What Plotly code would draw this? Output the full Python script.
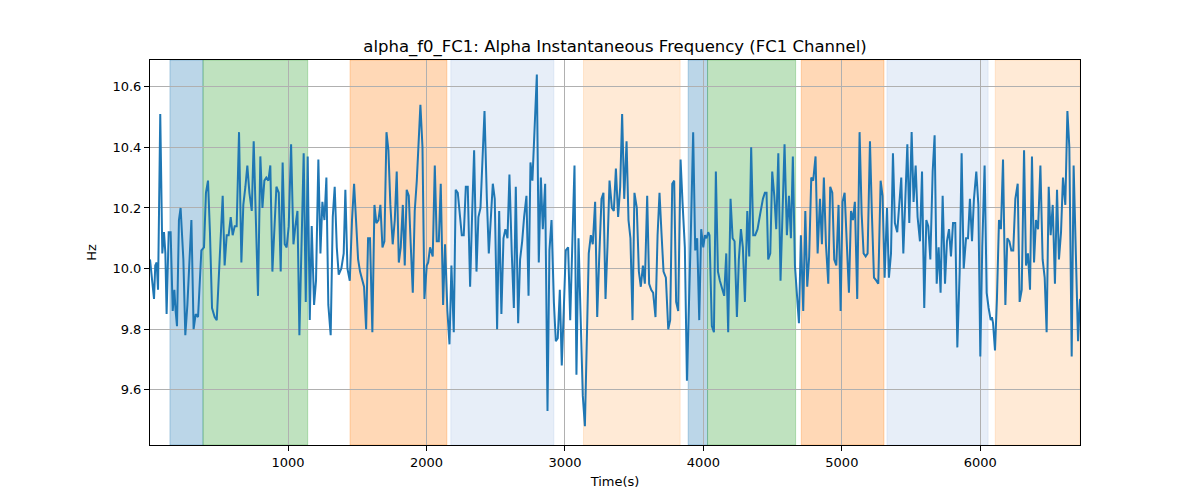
import plotly.graph_objects as go

time_s = [3, 22, 32, 41, 51, 61, 77, 92, 104, 114, 123, 138, 152, 167, 179, 188, 198, 212, 224, 244,
          258, 273, 302, 318, 333, 350, 374, 393, 407, 422, 436, 451, 470, 485, 499, 518, 528, 542, 557, 571,
          586, 600, 615, 629, 646, 663,
          677, 692, 706, 721, 738, 752, 769, 783, 800, 815, 829, 843, 858, 872, 887, 901, 916, 933, 947, 961,
          976, 990, 1005, 1022, 1039, 1053, 1068, 1082, 1099, 1113, 1128, 1142, 1157, 1171, 1188, 1202, 1219,
          1234, 1248, 1263, 1277, 1291, 1308, 1323, 1337,
          1352, 1366, 1385, 1402, 1414, 1429, 1446, 1462, 1477, 1491, 1506, 1520, 1535, 1549, 1564, 1578, 1592,
          1609, 1624, 1638, 1653, 1667, 1682, 1696, 1711, 1725, 1739, 1756, 1771, 1785, 1800, 1814, 1829, 1843,
          1857, 1872, 1886, 1901, 1915, 1930, 1956, 1971, 1985, 2002,
          2012, 2026, 2045, 2060, 2074, 2089, 2103, 2120, 2134, 2151, 2166, 2180, 2197, 2211, 2226, 2240, 2255,
          2269, 2284, 2298, 2315, 2329, 2344, 2361, 2375, 2390, 2404, 2419, 2436, 2450, 2464, 2479, 2493, 2510,
          2525, 2541, 2556, 2570, 2585, 2599, 2616, 2631, 2645, 2662,
          2676, 2691, 2705, 2722, 2737, 2751, 2765, 2780, 2797, 2811, 2826, 2840, 2857, 2874, 2888, 2903, 2920,
          2934, 2948, 2963, 2977, 2992, 3006, 3023, 3038, 3052, 3069, 3083, 3098, 3112, 3129, 3144, 3158, 3172,
          3187, 3201, 3218, 3233, 3247, 3264, 3278, 3293, 3307, 3322,
          3339, 3353, 3368, 3384, 3399, 3413, 3428, 3445, 3459, 3473, 3488, 3502, 3519, 3534, 3548, 3563, 3577,
          3594, 3608, 3623, 3637, 3654, 3669, 3683, 3697, 3712, 3729, 3746, 3760, 3775, 3789, 3803, 3818, 3835,
          3849, 3866, 3881, 3895, 3909, 3926, 3941, 3955, 3970, 3984, 3999,
          4011, 4023, 4035, 4044, 4061, 4076, 4090, 4105, 4119, 4136, 4150, 4165, 4179, 4196, 4211, 4225, 4242,
          4256, 4271, 4285, 4300, 4317, 4331, 4345, 4360, 4374, 4391, 4410, 4430, 4444, 4456, 4468, 4483, 4497,
          4512, 4526, 4541, 4557, 4572, 4586, 4603, 4618, 4632,
          4646, 4661, 4675, 4690, 4704, 4721, 4736, 4750, 4764, 4779, 4793, 4810, 4825, 4842, 4856, 4870, 4885,
          4902, 4916, 4931, 4945, 4960, 4976, 4991, 5005, 5020, 5037, 5051, 5066, 5080, 5094, 5111, 5128, 5143,
          5157, 5172, 5186, 5203, 5217, 5232, 5249, 5263, 5280, 5294, 5309, 5326,
          5340, 5355, 5369, 5383, 5400, 5415, 5429, 5444, 5458, 5473, 5487, 5504, 5518, 5533, 5547, 5564, 5579,
          5595, 5610, 5624, 5639, 5656, 5670, 5685, 5699, 5713, 5728, 5745, 5759, 5774, 5788, 5803, 5819, 5834,
          5851, 5865, 5880, 5897, 5911, 5925, 5940, 5954, 5971, 5986,
          6000, 6014, 6031, 6046, 6060, 6075, 6084, 6092, 6106, 6120, 6135, 6149, 6164, 6181, 6195, 6210, 6224,
          6238, 6253, 6270, 6284, 6299, 6316, 6330, 6344, 6359, 6373, 6388, 6402, 6417, 6434, 6450, 6465, 6479,
          6494, 6508, 6523, 6539, 6554, 6568, 6583, 6597, 6614, 6629, 6643, 6660, 6674, 6691, 6706, 6720]

freq_hz = [10.03, 9.94, 9.90, 10.01, 10.02, 9.93, 10.51, 10.05, 10.12, 10.05, 9.85, 10.12, 10.12, 9.86, 9.93, 9.86, 9.81, 10.16, 10.20, 10.03,
           9.78, 9.88, 10.16, 9.80, 9.85, 9.84, 10.06, 10.07, 10.25, 10.29, 10.12, 9.87, 9.84, 9.83, 9.97, 10.11, 10.24, 10.01, 10.11, 10.11,
           10.17, 10.11, 10.14, 10.14, 10.45, 10.02,
           10.21, 10.27, 10.34, 10.25, 10.19, 10.42, 10.12, 9.91, 10.37, 10.20, 10.29, 10.30, 10.29, 10.34, 9.99, 10.11, 10.27, 10.25, 9.99, 10.35,
           10.08, 10.07, 10.14, 10.41, 10.08, 10.14, 10.19, 9.78, 10.14, 10.38, 9.89, 10.37, 9.83, 10.14, 9.88, 9.96, 10.36,
           10.05, 10.22, 10.16, 10.30, 9.88, 9.78, 10.17, 10.27,
           10.07, 9.98, 10.00, 10.05, 10.26, 10.00, 9.96, 10.16, 10.28, 10.16, 10.03, 9.99, 9.96, 9.94, 9.80, 10.10, 10.10,
           9.79, 10.21, 10.15, 10.16, 10.21, 10.07, 10.09, 10.45, 10.39, 10.21, 10.08, 10.16, 10.32, 10.02, 10.07, 10.21, 10.01,
           10.26, 10.24, 10.08, 9.92, 10.19, 10.29, 10.54, 10.40, 9.90, 10.01,
           10.02, 10.07, 10.04, 10.34, 10.09, 10.09, 10.28, 9.88, 10.08, 9.86, 9.75, 10.01, 9.79, 10.26, 10.25, 10.17, 10.11,
           10.11, 10.27, 10.27, 9.94, 10.17, 10.39, 9.99, 10.17, 10.20, 10.36, 10.52, 10.23, 10.05, 10.16, 10.28, 10.23, 9.80,
           10.19, 9.85, 10.10, 10.13, 10.10, 10.31, 10.05, 9.87, 10.27, 9.82,
           10.03, 10.09, 10.17, 10.24, 9.91, 10.35, 10.29, 10.47, 10.64, 10.02, 10.30, 10.13, 10.28, 9.53, 10.06, 10.16, 9.89,
           9.76, 9.77, 9.93, 9.68, 9.87, 10.06, 10.07, 9.83, 10.06, 10.34, 9.65, 10.10, 9.86, 9.58, 9.48, 9.78, 10.05,
           10.11, 10.08, 10.22, 9.84, 10.03, 10.23, 10.25, 9.90, 10.07, 10.29,
           10.20, 10.19, 10.33, 10.17, 10.27, 10.51, 10.23, 10.42, 10.16, 10.10, 9.83, 10.25, 10.20, 9.99, 9.94, 10.01, 9.95,
           10.24, 9.95, 9.93, 9.92, 9.84, 10.11, 10.25, 10.12, 9.99, 9.97, 9.80, 9.83, 10.28, 10.29, 9.89, 9.86, 10.36,
           10.22, 10.07, 9.63, 9.85, 10.11, 10.45, 10.06, 10.10, 9.83, 10.13, 10.07,
           10.11, 10.10, 10.12, 10.11, 9.81, 9.79, 10.32, 9.99, 9.96, 9.93, 9.91, 10.05, 9.79, 10.23, 10.10, 10.09, 9.84,
           10.03, 10.13, 10.07, 9.89, 10.19, 10.04, 10.40, 10.11, 10.11, 10.13, 10.18, 10.23, 10.25, 10.25, 10.03, 10.05, 10.32,
           10.24, 10.13, 10.38, 9.96, 10.17, 10.41, 10.11, 10.24, 10.10,
           10.37, 10.01, 9.92, 9.82, 10.11, 9.86, 10.19, 9.94, 10.04, 10.30, 10.29, 10.37, 10.05, 10.23, 10.08, 10.30, 10.08,
           9.95, 10.27, 10.25, 10.03, 10.01, 10.21, 9.86, 10.22, 10.25, 10.07, 9.92, 10.19, 10.16, 10.22, 9.90, 10.45, 10.18,
           10.05, 10.04, 10.05, 10.42, 10.18, 9.97, 9.96, 9.95, 10.29, 10.24, 9.97, 10.20,
           9.97, 10.05, 10.38, 10.15, 10.12, 10.22, 10.30, 10.05, 10.22, 10.41, 10.15, 10.45, 10.22, 10.34, 10.17, 10.09, 10.32,
           9.87, 10.16, 10.14, 10.03, 10.32, 10.44, 9.95, 10.07, 9.92, 10.24, 9.95, 10.09, 10.13, 10.04, 10.15, 10.15, 9.74,
           9.99, 10.38, 10.00, 10.10, 10.10, 10.23, 10.09, 10.23, 10.32, 10.21,
           9.71, 10.07, 10.34, 9.92, 9.87, 9.83, 9.84, 9.82, 9.73, 9.90, 10.16, 10.13, 10.36, 9.88, 10.10, 10.09, 10.06,
           10.06, 10.23, 10.28, 9.89, 9.93, 10.39, 10.01, 10.05, 9.93, 10.37, 10.02, 10.16, 10.13, 10.34, 10.03, 9.97, 9.79,
           10.27, 10.11, 10.21, 9.95, 10.26, 10.03, 10.12, 10.30, 10.21, 10.52, 10.40, 9.71, 10.34, 10.07, 9.76, 9.90]

# shaded segments: start, end, colour
seg_start = [147, 386, 1448, 2176, 3134, 3890, 4030, 4707, 5326, 6108]
seg_end = [386, 1142, 2147, 2920, 3832, 4030, 4666, 5304, 6056, 6720]
seg_fill = ["rgba(31,119,180,0.3)", "rgba(44,160,44,0.3)", "rgba(255,127,14,0.3)",
            "rgba(174,199,232,0.3)", "rgba(255,187,120,0.3)",
            "rgba(31,119,180,0.3)", "rgba(44,160,44,0.3)", "rgba(255,127,14,0.3)",
            "rgba(174,199,232,0.3)", "rgba(255,187,120,0.3)"]

x_ticks = [1000, 2000, 3000, 4000, 5000, 6000]
y_ticks = [9.6, 9.8, 10.0, 10.2, 10.4, 10.6]

fig = go.Figure()
for s, e, c in zip(seg_start, seg_end, seg_fill):
    fig.add_vrect(x0=s, x1=e, fillcolor=c, line_width=1, line_color=c, layer="below")

fig.add_trace(go.Scatter(x=time_s, y=freq_hz, mode="lines",
                         line=dict(color="#1f77b4", width=2), showlegend=False))

axis_common = dict(showline=True, linecolor="black", linewidth=1, mirror=True,
                   ticks="outside", ticklen=5, tickcolor="black",
                   showgrid=True, gridcolor="#b0b0b0", gridwidth=1, zeroline=False,
                   tickfont=dict(family="DejaVu Sans", size=13, color="black"))

fig.update_xaxes(range=[time_s[0], time_s[-1]], tickvals=x_ticks,
                 title=dict(text="Time(s)", font=dict(family="DejaVu Sans", size=13, color="black"), standoff=8),
                 **axis_common)
fig.update_yaxes(range=[9.418, 10.688], tickvals=y_ticks, ticktext=[f"{v:.1f}" for v in y_ticks],
                 title=dict(text="Hz", font=dict(family="DejaVu Sans", size=13, color="black"), standoff=12),
                 **axis_common)

fig.update_layout(
    width=1192, height=492,
    margin=dict(l=142, r=120, t=52, b=55),
    paper_bgcolor="white", plot_bgcolor="white",
    title=dict(text="alpha_f0_FC1: Alpha Instantaneous Frequency (FC1 Channel)",
               x=(607 / 1192), xanchor="center", y=1 - 38 / 492, yanchor="middle",
               font=dict(family="DejaVu Sans", size=16.5, color="black")),
)

fig.write_html("out.html")
